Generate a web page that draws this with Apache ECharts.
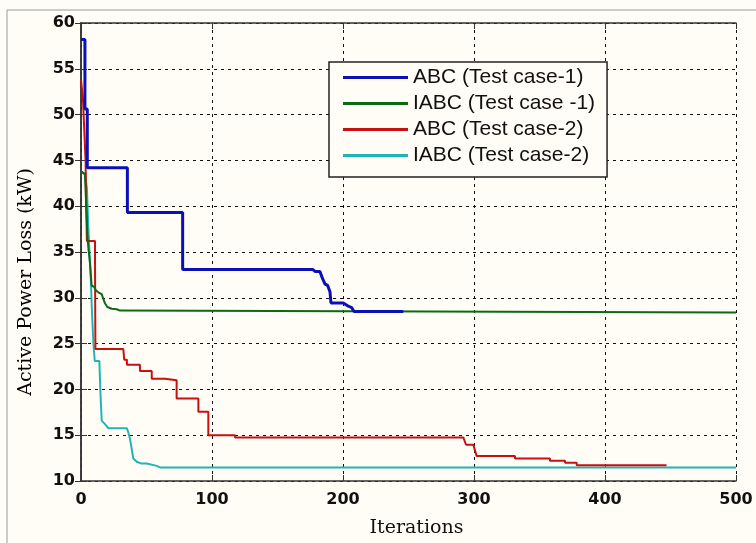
<!DOCTYPE html>
<html>
<head>
<meta charset="utf-8">
<script src="https://cdn.jsdelivr.net/npm/echarts@6/dist/echarts.min.js"></script>
<style>
  html, body { margin: 0; padding: 0; background: #fffdf6; }
  #chart { width: 756px; height: 543px; }
</style>
</head>
<body>
<div id="chart"></div>
<script>
var seriesNames = ['ABC (Test case-1)', 'IABC (Test case -1)', 'ABC (Test case-2)', 'IABC (Test case-2)'];
var xTicks = [0, 100, 200, 300, 400, 500];
var yTicks = [10, 15, 20, 25, 30, 35, 40, 45, 50, 55, 60];
var xTitle = 'Iterations';
var yTitle = 'Active Power Loss (kW)';

// [iteration, loss kW]
var abcCase1 = [
  [0, 58.2], [3, 58.2], [3, 50.6], [4.8, 50.6], [4.8, 44.2], [35.4, 44.2], [35.4, 39.3],
  [77.6, 39.3], [77.6, 33.1], [176.8, 33.1], [178.9, 32.86], [182.4, 32.86], [182.4, 32.68],
  [184.5, 32.06], [186.3, 31.5], [188.3, 31.35], [190.1, 30.63], [190.8, 29.44], [200.2, 29.44],
  [200.2, 29.3], [204.1, 29.08], [206.6, 28.93], [208.4, 28.5], [246, 28.5]
];
var iabcCase1 = [
  [0, 43.8], [3, 43.5], [4, 40], [5, 36.5], [5.6, 35.5], [6.9, 33.7], [8.1, 33.5], [8.1, 31.35],
  [9.9, 31.2], [11.5, 30.8], [13.2, 30.6], [15.8, 30.4], [17, 29.9], [18.3, 29.4], [20.1, 29.0],
  [23.4, 28.8], [27.2, 28.75], [29.8, 28.6], [31, 28.4], [500, 28.4]
];
var abcCase2 = [
  [0, 53.8], [1.5, 53.8], [1.5, 51.7], [3, 51.7], [3.5, 45], [4, 40], [4.5, 36.2], [10.7, 36.2],
  [10.7, 33.9], [11, 24.4], [32.3, 24.4], [33, 23.25], [35, 23.25], [35.1, 22.7], [45, 22.7],
  [45, 22.0], [54, 22.0], [54, 21.15], [64.1, 21.15], [64.1, 21.0], [73, 21.0], [73, 19.0],
  [89.6, 19.0], [89.6, 17.56], [97.2, 17.56], [97.2, 15.0], [117.6, 15.0], [117.6, 14.75],
  [291.9, 14.75], [293.9, 13.96], [299.5, 13.96], [302, 12.73], [331.3, 12.73], [331.3, 12.45],
  [358, 12.45], [358, 12.2], [369.5, 12.2], [369.5, 11.98], [378.4, 11.98], [378.4, 11.73], [447, 11.73]
];
var iabcCase2 = [
  [0, 43.8], [3, 43.5], [4.5, 42], [5.5, 38], [6.5, 35], [7.5, 32], [8.5, 28], [9.5, 25],
  [10.5, 23.1], [14, 23.1], [15, 19], [15.8, 16.6], [18.3, 16.2], [20.9, 15.76], [34.9, 15.76],
  [36.1, 15.33], [37.4, 14.6], [38.7, 13.5], [39.9, 12.45], [42.5, 12.1], [46.3, 11.9],
  [50.2, 11.9], [57.8, 11.65], [60.3, 11.48], [500, 11.48]
];

var colors = ['#0a10b8', '#0c6a12', '#c81010', '#22b4b4'];
var widths = [3, 2, 2, 2];
var dataSets = [abcCase1, iabcCase1, abcCase2, iabcCase2];

var chart = echarts.init(document.getElementById('chart'), null, { renderer: 'canvas' });

var tickFont = { color: '#111', fontFamily: 'DejaVu Sans', fontWeight: 'bold', fontSize: 16 };
var titleFont = { color: '#111', fontFamily: 'DejaVu Serif', fontWeight: 'normal', fontSize: 19 };
var gridLine = { show: true, lineStyle: { color: '#111', type: [3, 4], width: 1 } };
var boxLine = { show: true, lineStyle: { color: '#333', width: 1.5 } };
var inTick = { show: true, inside: true, length: 6, lineStyle: { color: '#333' } };

chart.setOption({
  animation: false,
  backgroundColor: '#fffdf6',
  graphic: [{
    type: 'rect',
    shape: { x: 7, y: 10, width: 760, height: 540 },
    style: { fill: 'none', stroke: '#9a9a9a', lineWidth: 1 },
    silent: true
  }, {
    type: 'text',
    x: 26,
    y: 282,
    rotation: Math.PI / 2,
    style: Object.assign({ text: yTitle, align: 'center', verticalAlign: 'middle' }, titleFont),
    silent: true
  }],
  grid: { left: 81, right: 20, top: 23, bottom: 57, containLabel: false },
  legend: {
    left: 329,
    top: 62,
    orient: 'vertical',
    data: seriesNames,
    icon: 'rect',
    itemWidth: 65,
    itemHeight: 3,
    itemGap: 5,
    padding: [5, 12, 11, 14],
    backgroundColor: '#fffdf6',
    borderColor: '#222',
    borderWidth: 1.5,
    textStyle: { color: '#111', fontFamily: 'Liberation Sans', fontSize: 21, lineHeight: 21 }
  },
  xAxis: [{
    type: 'value',
    min: 0,
    max: 500,
    interval: 100,
    name: xTitle,
    nameLocation: 'middle',
    nameGap: 38,
    nameTextStyle: Object.assign({ padding: [0, 0, 0, 16] }, titleFont),
    axisLine: boxLine,
    axisTick: inTick,
    axisLabel: Object.assign({ margin: 11, formatter: function (v) { return xTicks.indexOf(v) >= 0 ? String(v) : ''; } }, tickFont),
    splitLine: gridLine
  }, {
    type: 'value',
    position: 'top',
    min: 0,
    max: 500,
    interval: 100,
    axisLine: boxLine,
    axisTick: inTick,
    axisLabel: { show: false },
    splitLine: { show: false }
  }],
  yAxis: [{
    type: 'value',
    min: 10,
    max: 60,
    interval: 5,
    axisLine: boxLine,
    axisTick: inTick,
    axisLabel: Object.assign({ margin: 6, formatter: function (v) { return yTicks.indexOf(v) >= 0 ? String(v) : ''; } }, tickFont),
    splitLine: gridLine
  }, {
    type: 'value',
    position: 'right',
    min: 10,
    max: 60,
    interval: 5,
    axisLine: boxLine,
    axisTick: inTick,
    axisLabel: { show: false },
    splitLine: { show: false }
  }],
  series: seriesNames.map(function (name, i) {
    return {
      name: name,
      type: 'line',
      data: dataSets[i],
      showSymbol: false,
      symbol: 'none',
      color: colors[i],
      lineStyle: { color: colors[i], width: widths[i] },
      z: 10 - i
    };
  })
});
</script>
</body>
</html>
